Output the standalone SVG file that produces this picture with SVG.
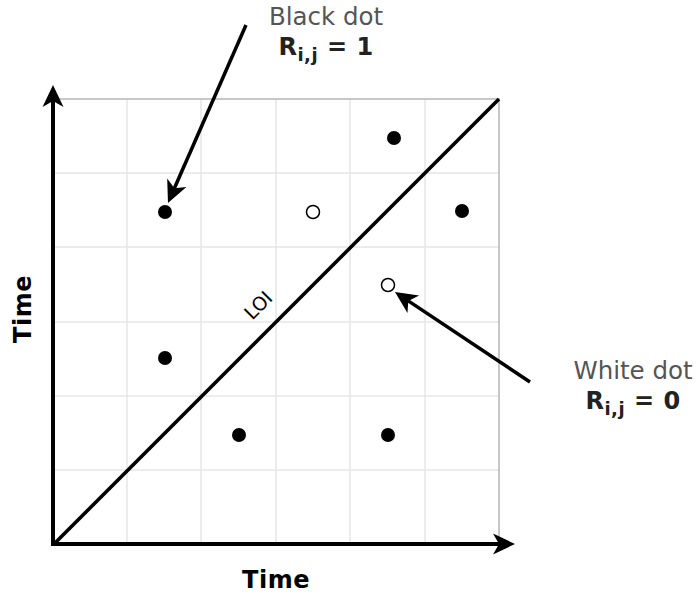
<svg xmlns="http://www.w3.org/2000/svg" width="696" height="596" viewBox="0 0 696 596">
<style>
.grid{stroke:#e6e6e6;stroke-width:1.5;fill:none}
.border{stroke:#b5b5b5;stroke-width:1.5;fill:none}
.axis{stroke:#000;stroke-width:4;fill:none}
.call{stroke:#000;stroke-width:3.5;fill:none}
.loi{stroke:#000;stroke-width:3.5;fill:none}
.bd{fill:#000}
.wd{fill:#fff;stroke:#000;stroke-width:1.5}
.lbl{font-family:"DejaVu Sans",Verdana,sans-serif;font-size:24.5px;fill:#555;text-anchor:middle}
.rl{font-family:"DejaVu Sans",Verdana,sans-serif;font-size:24px;font-weight:bold;fill:#222;text-anchor:middle;letter-spacing:0.5px}
.ax{font-family:"DejaVu Sans",Verdana,sans-serif;font-size:24px;font-weight:bold;fill:#000;text-anchor:middle;letter-spacing:0.5px}
.loit{font-family:"DejaVu Sans",Verdana,sans-serif;font-size:19px;fill:#000;text-anchor:middle}
</style>
<defs>
<marker id="ah" viewBox="-8 -12 26 24" refX="0" refY="0" markerWidth="26" markerHeight="24" markerUnits="userSpaceOnUse" orient="auto">
<path d="M16,0 L-6,-10.5 L0,0 L-6,10.5 Z" fill="#000"/>
</marker>
</defs>
<rect width="696" height="596" fill="#fff"/>
<g id="grid">
<path class="grid" d="M127,99V544M201,99V544M276,99V544M350,99V544M425,99V544M53,173H499M53,247H499M53,322H499M53,396H499M53,470H499"/>
<path class="border" d="M53,99H499V544"/>
</g>
<g id="loi-line">
<line class="loi" x1="53" y1="545" x2="499" y2="99"/>
<text class="loit" transform="translate(258,305) rotate(-45)" dominant-baseline="central">LOI</text>
</g>
<g id="black-dots">
<circle class="bd" cx="165" cy="212" r="7"/>
<circle class="bd" cx="394" cy="138" r="7"/>
<circle class="bd" cx="462" cy="211" r="7"/>
<circle class="bd" cx="165" cy="358" r="7"/>
<circle class="bd" cx="239" cy="435" r="7"/>
<circle class="bd" cx="388" cy="435" r="7"/>
</g>
<g id="white-dots">
<circle class="wd" cx="313" cy="212" r="6.5"/>
<circle class="wd" cx="388" cy="285" r="6.5"/>
</g>
<g id="connectors">
<line class="axis" x1="53" y1="546" x2="53" y2="101" marker-end="url(#ah)"/>
<line class="axis" x1="51" y1="544" x2="499" y2="544" marker-end="url(#ah)"/>
<line class="call" x1="246" y1="25" x2="174.4" y2="188.3" marker-end="url(#ah)"/>
<line class="call" x1="530" y1="382" x2="408.3" y2="300.9" marker-end="url(#ah)"/>
</g>
<g id="black-label">
<text class="lbl" x="326" y="25">Black dot</text>
<text class="rl" x="326" y="55">R<tspan font-size="18" dy="6">i,j</tspan><tspan dy="-6"> = 1</tspan></text>
</g>
<g id="white-label">
<text class="lbl" x="633" y="379">White dot</text>
<text class="rl" x="633" y="409">R<tspan font-size="18" dy="6">i,j</tspan><tspan dy="-6"> = 0</tspan></text>
</g>
<g id="axis-labels">
<text class="ax" x="276" y="588">Time</text>
<text class="ax" transform="translate(31,309) rotate(-90)">Time</text>
</g>
</svg>
